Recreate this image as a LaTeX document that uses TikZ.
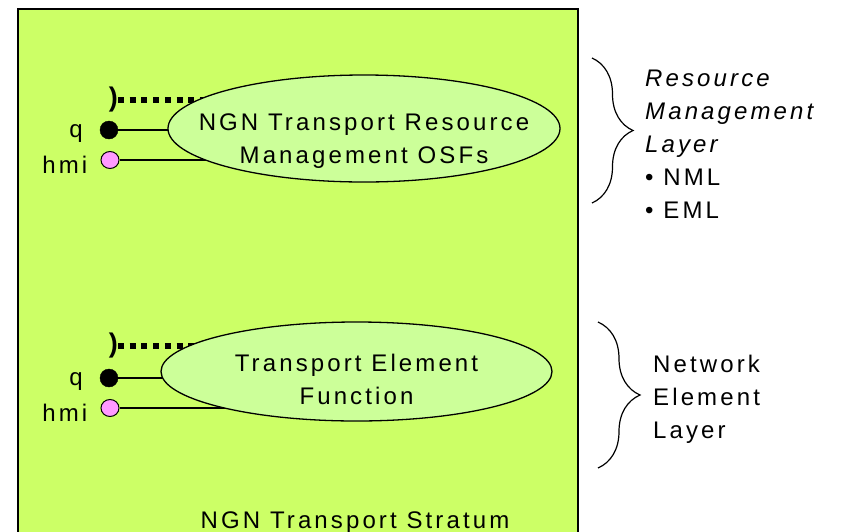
\documentclass[tikz,border=0pt]{standalone}
\usepackage{fontspec}
\setmainfont{Liberation Sans}[LetterSpace=13]
\usetikzlibrary{positioning,shapes.geometric,decorations.pathreplacing}
\definecolor{stratumgreen}{HTML}{CCFF66}
\definecolor{osfgreen}{HTML}{CCFF99}
\definecolor{hmipink}{HTML}{FF99FF}

\begin{document}
\begin{tikzpicture}[x=1pt,y=-1pt]
    \tikzset{
        txt/.style={font=\fontsize{24}{33}\selectfont, inner sep=0pt},
        osf/.style={ellipse, draw, line width=1.3pt, fill=osfgreen, inner sep=0pt},
        qdot/.style={circle, draw, fill=black, minimum size=18pt, inner sep=0pt},
        hmidot/.style={ellipse, draw, line width=1pt, fill=hmipink, minimum width=18pt, minimum height=17pt, inner sep=0pt},
        paren/.style={font=\fontsize{27}{27}\selectfont\bfseries, inner sep=0pt},
        iface/.style={line width=1.2pt},
        mgmt/.style={line width=6pt, dash pattern=on 6pt off 5.7pt},
        layerbrace/.style={decorate, decoration={brace, amplitude=#1}, line width=1.2pt}
    };
    \useasboundingbox (0,0) rectangle (841,531);
    \clip (0,0) rectangle (841,531);
    % stratum
    \filldraw[fill=stratumgreen, line width=1.6pt] (18,9) rectangle (578,560);
    \coordinate (rmc) at (364,128.5);
    \coordinate (tec) at (356.5,371.5);
    % resource management OSFs
    \node[paren, anchor=east] (p1) at (118,100) {)};
    \node[qdot] (q1) at (109,130) {};
    \node[hmidot] (h1) at (110,160) {};
    \node[txt, left=17pt of q1, yshift=-4pt] (q1l) {q};
    \node[txt, left=13pt of h1, yshift=-5pt] (h1l) {hmi};
    \draw[mgmt] (p1.east) -- (p1.east -| rmc);
    \draw[iface] (q1) -- (q1 -| rmc);
    \draw[iface] (h1) -- (h1 -| rmc);
    \node[osf, minimum width=392pt, minimum height=107pt] (rm) at (rmc) {};
    \node[txt, align=center, yshift=-12.5pt] (rmt) at (rm) {NGN Transport Resource\\Management OSFs};
    % transport element function
    \node[paren, anchor=east] (p2) at (118,346) {)};
    \node[qdot] (q2) at (109,378) {};
    \node[hmidot] (h2) at (110,408) {};
    \node[txt, left=17pt of q2, yshift=-4pt] (q2l) {q};
    \node[txt, left=13pt of h2, yshift=-5pt] (h2l) {hmi};
    \draw[mgmt] (p2.east) -- (p2.east -| tec);
    \draw[iface] (q2) -- (q2 -| tec);
    \draw[iface] (h2) -- (h2 -| tec);
    \node[osf, minimum width=391pt, minimum height=99pt] (te) at (tec) {};
    \node[txt, align=center, yshift=-7.5pt] (tet) at (te) {Transport Element\\Function};
    \node[txt, anchor=base] (tsl) at (355,528) {NGN Transport Stratum};
    % layers
    \coordinate (b1t) at (592,58);
    \coordinate (b1b) at (592,203);
    \coordinate (b2t) at (598,322);
    \coordinate (b2b) at (598,468);
    \draw[layerbrace=41pt] (b1t) -- (b1b);
    \draw[layerbrace=42pt] (b2t) -- (b2b);
    \node[txt, anchor=north west, align=left] (rml) at (645,70) {\textit{Resource}\\\textit{Management}\\\textit{Layer}\\• NML\\• EML};
    \node[txt, anchor=north west, align=left] (nel) at (653,354.5) {Network\\Element\\Layer};
\end{tikzpicture}
\end{document}
